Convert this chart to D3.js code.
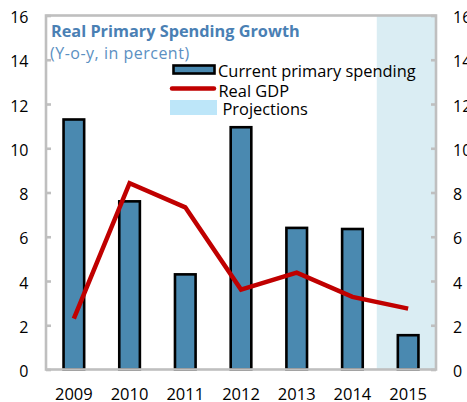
<!DOCTYPE html>
<html>
<head>
<meta charset="utf-8">
<script src="https://cdn.jsdelivr.net/npm/d3@7"></script>
<style>
  html, body { margin: 0; padding: 0; background: #fff; }
  svg { display: block; }
  text { font-family: "Open Sans", "Noto Sans", sans-serif; }
</style>
</head>
<body>
<svg id="chart" width="467" height="402"></svg>
<script>
// Years on the horizontal axis
const years = ["2009", "2010", "2011", "2012", "2013", "2014", "2015"];
// Current primary spending growth (bars), y-o-y %
const spending = [11.3, 7.6, 4.3, 10.95, 6.4, 6.35, 1.55];
// Real GDP growth (line), y-o-y %
const realGdp = [2.3, 8.42, 7.33, 3.61, 4.38, 3.28, 2.75];
// Years shaded as projections
const projectionYears = ["2015"];
// Axis ticks (both sides)
const yTicks = [0, 2, 4, 6, 8, 10, 12, 14, 16];

const svg = d3.select("#chart");
const plot = { left: 46, right: 436, top: 15.5, bottom: 369.5 };

const x = d3.scaleBand().domain(years).range([plot.left, plot.right]);
const y = d3.scaleLinear().domain([0, 16]).range([plot.bottom, plot.top]);

// Projection shading
const projStart = x(projectionYears[0]) - 3.5;
svg.append("rect")
  .attr("x", projStart)
  .attr("y", y(16))
  .attr("width", plot.right - projStart)
  .attr("height", y(0) - y(16))
  .attr("fill", "#DAEDF3");

// Bars
const barW = x.step() * 0.37;
svg.append("g").selectAll("rect")
  .data(years)
  .join("rect")
  .attr("x", d => x(d) + x.bandwidth() / 2 - barW / 2)
  .attr("y", (d, i) => y(spending[i]))
  .attr("width", barW)
  .attr("height", (d, i) => y(0) - y(spending[i]))
  .attr("fill", "#4A89B0")
  .attr("stroke", "#000")
  .attr("stroke-width", 2.6);

// Real GDP line
const line = d3.line()
  .x((d, i) => x(years[i]) + x.bandwidth() / 2)
  .y(d => y(d));
svg.append("path")
  .datum(realGdp)
  .attr("d", line)
  .attr("fill", "none")
  .attr("stroke", "#C00000")
  .attr("stroke-width", 4.5)
  .attr("stroke-linejoin", "miter");

// Frame and inner tick marks
const frameColor = "#BFBFBF";
svg.append("rect")
  .attr("x", plot.left).attr("y", plot.top)
  .attr("width", plot.right - plot.left)
  .attr("height", plot.bottom - plot.top)
  .attr("fill", "none")
  .attr("stroke", frameColor)
  .attr("stroke-width", 2.6);

const leftAxis = d3.axisLeft(y).tickValues(yTicks).tickSizeInner(-5).tickSizeOuter(0).tickPadding(17.5);
const rightAxis = d3.axisRight(y).tickValues(yTicks).tickSizeInner(-5).tickSizeOuter(0).tickPadding(17);

function styleAxis(g) {
  g.select(".domain").remove();
  g.selectAll(".tick line").attr("stroke", frameColor).attr("stroke-width", 2.6);
  g.selectAll(".tick text")
    .attr("fill", "#000")
    .attr("dy", "0.45em")
    .style("font-size", "16px")
    .style("font-family", "'Open Sans', 'Noto Sans', sans-serif");
}
svg.append("g").attr("transform", `translate(${plot.left},0)`).call(leftAxis).call(styleAxis);
svg.append("g").attr("transform", `translate(${plot.right},0)`).call(rightAxis).call(styleAxis);

// Year labels
svg.append("g").selectAll("text")
  .data(years)
  .join("text")
  .attr("x", d => x(d) + x.bandwidth() / 2)
  .attr("y", 399.5)
  .attr("text-anchor", "middle")
  .attr("font-size", 16.5)
  .attr("fill", "#000")
  .text(d => d);

// Title and subtitle
svg.append("text")
  .attr("x", 51).attr("y", 37)
  .attr("font-size", 16.3)
  .attr("font-weight", "bold")
  .attr("fill", "#4A80B4")
  .text("Real Primary Spending Growth");
svg.append("text")
  .attr("x", 50).attr("y", 58.5)
  .attr("font-size", 16)
  .attr("letter-spacing", 0.5)
  .attr("fill", "#5B90C2")
  .text("(Y-o-y, in percent)");

// Legend
const legend = svg.append("g");
legend.append("rect")
  .attr("x", 173.5).attr("y", 65.5).attr("width", 41).attr("height", 8)
  .attr("fill", "#4A89B0").attr("stroke", "#000").attr("stroke-width", 2.6);
legend.append("line")
  .attr("x1", 172).attr("x2", 214).attr("y1", 88.5).attr("y2", 88.5)
  .attr("stroke", "#C00000").attr("stroke-width", 4.5).attr("stroke-linecap", "round");
legend.append("rect")
  .attr("x", 170).attr("y", 100).attr("width", 47).attr("height", 15)
  .attr("fill", "#BDE6F9");
const legendLabels = ["Current primary spending", "Real GDP", "Projections"];
const legendX = [218, 218.5, 222.5];
const legendY = [77, 96.5, 115];
legend.selectAll("text.lbl")
  .data(legendLabels)
  .join("text")
  .attr("class", "lbl")
  .attr("x", (d, i) => legendX[i])
  .attr("y", (d, i) => legendY[i])
  .attr("font-size", 16.4)
  .attr("fill", "#000")
  .text(d => d);
</script>
</body>
</html>
